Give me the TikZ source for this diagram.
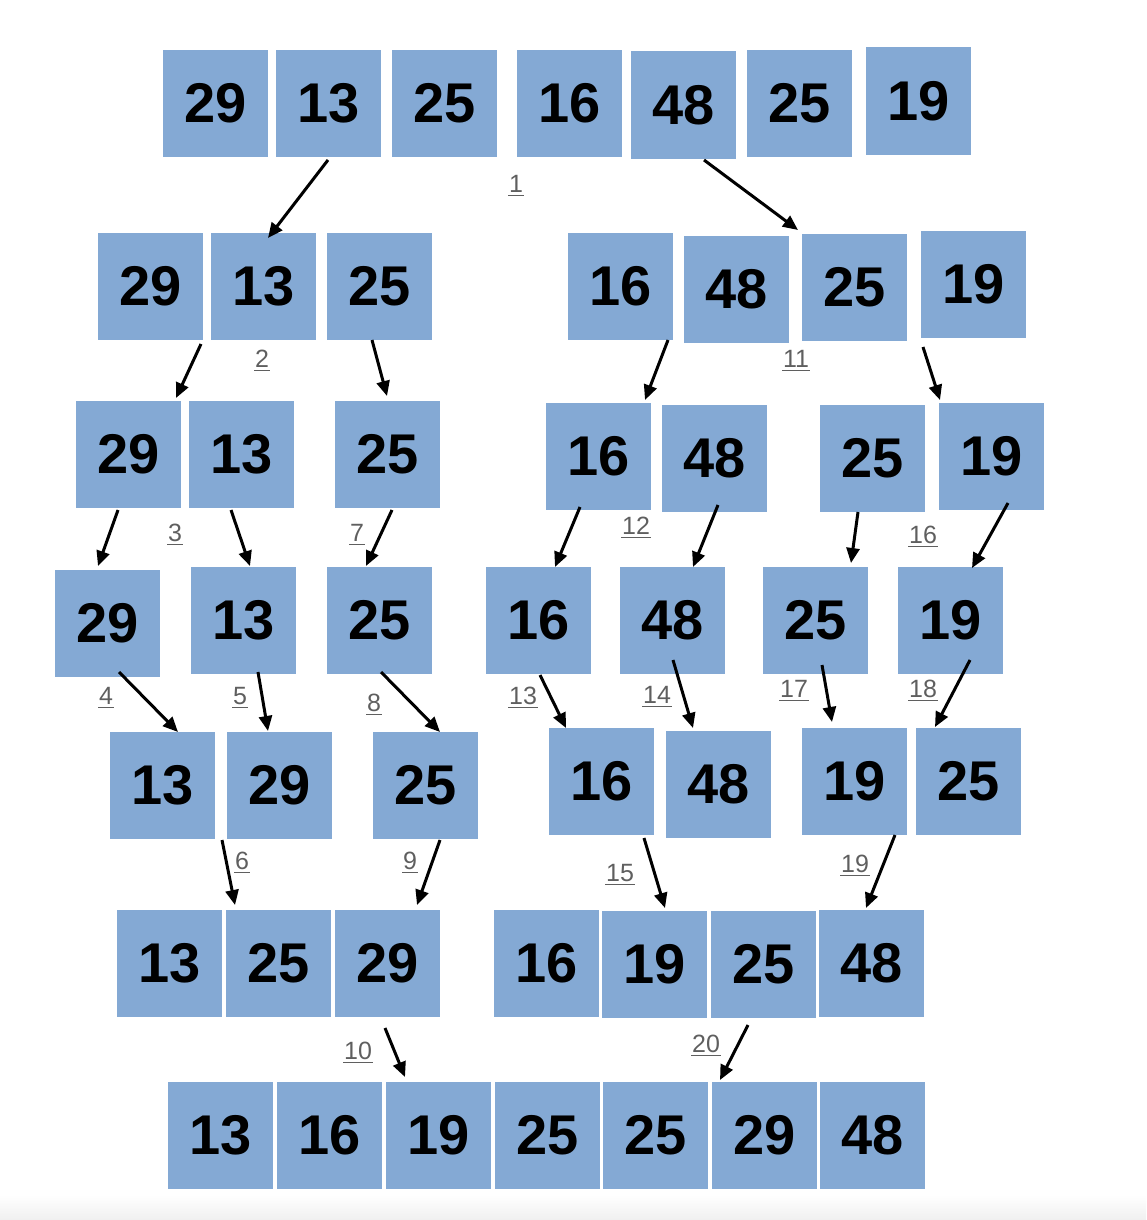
\documentclass[tikz,border=0pt]{standalone}
\usepackage{fontspec}
\setmainfont{Liberation Sans}
\usetikzlibrary{arrows.meta,calc}
\definecolor{boxblue}{RGB}{132,169,212}
\definecolor{lblgray}{RGB}{95,95,95}
\begin{document}
\begin{tikzpicture}[x=1pt,y=-1pt,
  box/.style={fill=boxblue, minimum width=105pt, minimum height=107pt, inner sep=0pt,
    font=\fontsize{56}{60}\selectfont\bfseries},
  arr/.style={line width=3pt, -{Triangle[length=15pt,width=13pt]}},
  lbl/.style={anchor=base, inner sep=0.5pt, text=lblgray, font=\fontsize{25}{28}\selectfont},
  ul/.style={draw=lblgray, line width=1.2pt}]
\useasboundingbox (0,0) rectangle (1146,1220);
\shade[top color=white, bottom color=black!6] (0,1195) rectangle (1146,1220);
% row 1
\node[box] (r1a) at (215.5,103.5) {29};
\node[box] (r1b) at (328.5,103.5) {13};
\node[box] (r1c) at (444.5,103.5) {25};
\node[box] (r1d) at (569.5,103.5) {16};
\node[box] (r1e) at (683.5,105) {48};
\node[box] (r1f) at (799.5,103.5) {25};
\node[box] (r1g) at (918.5,101) {19};
% row 2
\node[box] (r2a) at (150.5,286) {29};
\node[box] (r2b) at (263.5,286) {13};
\node[box] (r2c) at (379.5,286) {25};
\node[box] (r2d) at (620.5,286.5) {16};
\node[box] (r2e) at (736.5,289) {48};
\node[box] (r2f) at (854.5,287) {25};
\node[box] (r2g) at (973.5,284.5) {19};
% row 3
\node[box] (r3a) at (128.5,454.5) {29};
\node[box] (r3b) at (241.5,454.5) {13};
\node[box] (r3c) at (387.5,454.5) {25};
\node[box] (r3d) at (598.5,456) {16};
\node[box] (r3e) at (714.5,458.5) {48};
\node[box] (r3f) at (872.5,458.5) {25};
\node[box] (r3g) at (991.5,456) {19};
% row 4
\node[box] (r4a) at (107.5,623.5) {29};
\node[box] (r4b) at (243.5,620.5) {13};
\node[box] (r4c) at (379.5,620.5) {25};
\node[box] (r4d) at (538.5,620.5) {16};
\node[box] (r4e) at (672.5,620.5) {48};
\node[box] (r4f) at (815.5,620.5) {25};
\node[box] (r4g) at (950.5,620.5) {19};
% row 5
\node[box] (r5a) at (162.5,785.5) {13};
\node[box] (r5b) at (279.5,785.5) {29};
\node[box] (r5c) at (425.5,785.5) {25};
\node[box] (r5d) at (601.5,781.5) {16};
\node[box] (r5e) at (718.5,784) {48};
\node[box] (r5f) at (854.5,781.5) {19};
\node[box] (r5g) at (968.5,781.5) {25};
% row 6
\node[box] (r6a) at (169.5,963.5) {13};
\node[box] (r6b) at (278.5,963.5) {25};
\node[box] (r6c) at (387.5,963.5) {29};
\node[box] (r6d) at (546.5,963.5) {16};
\node[box] (r6e) at (654.5,964.5) {19};
\node[box] (r6f) at (763.5,964.5) {25};
\node[box] (r6g) at (871.5,963.5) {48};
% row 7
\node[box] (r7a) at (220.5,1135.5) {13};
\node[box] (r7b) at (329.5,1135.5) {16};
\node[box] (r7c) at (438.5,1135.5) {19};
\node[box] (r7d) at (547.5,1135.5) {25};
\node[box] (r7e) at (655.5,1135.5) {25};
\node[box] (r7f) at (764.5,1135.5) {29};
\node[box] (r7g) at (872.5,1135.5) {48};
% arrows
\draw[arr] ($(r1b)+(-0.5,56.5)$) -- ($(r2b)+(4.5,-48)$);
\draw[arr] ($(r1e)+(20.5,55)$) -- ($(r2f)+(-56.5,-57)$);
\draw[arr] ($(r2a)+(50.5,58)$) -- ($(r3a)+(47.5,-56.5)$);
\draw[arr] ($(r2c)+(-7.5,54)$) -- ($(r3c)+(-0.5,-58.5)$);
\draw[arr] ($(r2d)+(47.5,53.5)$) -- ($(r3d)+(46.5,-56)$);
\draw[arr] ($(r2g)+(-50.5,62.5)$) -- ($(r3g)+(-51.5,-56)$);
\draw[arr] ($(r3a)+(-10.5,55.5)$) -- ($(r4a)+(-9.5,-57.5)$);
\draw[arr] ($(r3b)+(-10.5,55.5)$) -- ($(r4b)+(6.5,-54.5)$);
\draw[arr] ($(r3c)+(4.5,55.5)$) -- ($(r4c)+(-13.5,-54.5)$);
\draw[arr] ($(r3d)+(-18.5,51)$) -- ($(r4d)+(16.5,-53.5)$);
\draw[arr] ($(r3e)+(3.5,46.5)$) -- ($(r4e)+(20.5,-53.5)$);
\draw[arr] ($(r3f)+(-14.5,53.5)$) -- ($(r4f)+(35.5,-57.5)$);
\draw[arr] ($(r3g)+(16.5,47)$) -- ($(r4g)+(21.5,-52.5)$);
\draw[arr] ($(r4a)+(11.5,48.5)$) -- ($(r5a)+(15.5,-53.5)$);
\draw[arr] ($(r4b)+(14.5,51.5)$) -- ($(r5b)+(-11.5,-54.5)$);
\draw[arr] ($(r4c)+(1.5,51.5)$) -- ($(r5c)+(14.5,-53.5)$);
\draw[arr] ($(r4d)+(1.5,54.5)$) -- ($(r5d)+(-35.5,-53.5)$);
\draw[arr] ($(r4e)+(0.5,39.5)$) -- ($(r5e)+(-25.5,-56)$);
\draw[arr] ($(r4f)+(6.5,44.5)$) -- ($(r5f)+(-22.5,-59.5)$);
\draw[arr] ($(r4g)+(19.5,39.5)$) -- ($(r5g)+(-33.5,-54.5)$);
\draw[arr] ($(r5a)+(59.5,54.5)$) -- ($(r6a)+(65.5,-58.5)$);
\draw[arr] ($(r5c)+(14.5,54.5)$) -- ($(r6c)+(29.5,-58.5)$);
\draw[arr] ($(r5d)+(42.5,56.5)$) -- ($(r6e)+(10.5,-56.5)$);
\draw[arr] ($(r5f)+(40.5,53.5)$) -- ($(r6g)+(-5.5,-55.5)$);
\draw[arr] ($(r6c)+(-2.5,64.5)$) -- ($(r7c)+(-33.5,-58.5)$);
\draw[arr] ($(r6f)+(-15.5,60.5)$) -- ($(r7f)+(-44.5,-55.5)$);
% step labels
\foreach \n/\x/\y in {1/516/192, 2/262/367, 11/796/367, 3/175/541, 7/357/541,
  12/636/534, 16/923/543, 4/106/704, 5/240/704, 8/374/711, 13/523/704,
  14/657/703, 17/794/697, 18/923/697, 6/242/869, 9/410/869, 15/620/881,
  19/855/872, 10/358/1059, 20/706/1052}{
  \node[lbl] (s\n) at (\x,\y) {\n};
  \draw[ul] ([yshift=-3.5pt]s\n.base west) -- ([yshift=-3.5pt]s\n.base east);
}
\end{tikzpicture}
\end{document}
